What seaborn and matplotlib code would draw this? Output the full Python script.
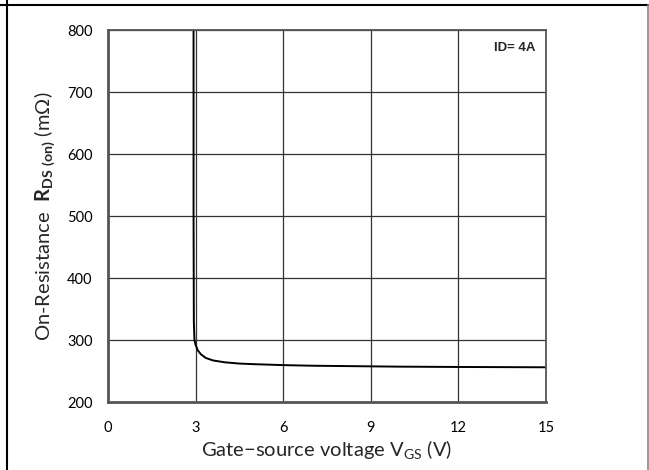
import matplotlib
matplotlib.use('Agg')
import matplotlib.pyplot as plt
import seaborn as sns
import pandas as pd
from matplotlib.lines import Line2D

# gate-source voltage (V) and on-resistance (mOhm)
vgs = [2.93, 2.93, 2.94, 2.96, 3.0, 3.08, 3.18, 3.35, 3.6, 4.0, 4.5, 5.0, 6.0, 7.0, 8.0, 9.0, 10.0, 12.0, 15.0]
rds = [800, 500, 330, 300, 292, 283, 277, 271, 267, 264, 262, 261, 259.5, 258.5, 258, 257.5, 257, 256.5, 256]
x_ticks = [0, 3, 6, 9, 12, 15]
y_ticks = [200, 300, 400, 500, 600, 700, 800]

df = pd.DataFrame({'vgs': vgs, 'rds': rds})

sns.set_theme(style='white')
plt.rcParams['font.family'] = ['Lato', 'DejaVu Sans']
plt.rcParams['mathtext.fontset'] = 'custom'
plt.rcParams['mathtext.rm'] = 'Lato'
plt.rcParams['mathtext.bf'] = 'Lato:bold'

fig = plt.figure(figsize=(6.49, 4.70), dpi=100)
ax = fig.add_axes([108 / 649, 68 / 470, 438 / 649, 372 / 470])

# estimator=None so the vertical drop at ~2.9 V is not averaged away
sns.lineplot(data=df, x='vgs', y='rds', sort=False, estimator=None,
             color='black', linewidth=1.4, ax=ax)

ax.set_xlim(0, 15)
ax.set_ylim(200, 800)
ax.set_xticks(x_ticks)
ax.set_yticks(y_ticks)
ax.tick_params(axis='both', length=0, labelsize=10.5, colors='black')
ax.tick_params(axis='y', pad=11)
ax.tick_params(axis='x', pad=14)
ax.grid(True, color='#333333', linewidth=0.9)
ax.set_axisbelow(True)
for side, sp in ax.spines.items():
    sp.set_color('#555555')
    sp.set_linewidth(1.3)
ax.spines['bottom'].set_linewidth(2.0)
ax.spines['left'].set_linewidth(2.0)

ax.set_xlabel(r'Gate$-$source voltage V$_{\mathregular{GS}}$ (V)', fontsize=14.5, labelpad=2)
ax.set_ylabel(r'On-Resistance  $\mathbf{R_{DS\ (on)}}$ (m$\Omega$)', fontsize=14.5, labelpad=7)

ax.annotate('ID= 4A', xy=(0.975, 0.952), xycoords='axes fraction', ha='right', va='center',
            fontsize=9.5, fontweight='bold', family='Liberation Sans')

# page frame lines
fig.add_artist(Line2D([7 / 649, 7 / 649], [0, 1], color='black', linewidth=1.5))
fig.add_artist(Line2D([0, 648 / 649], [1 - 4.5 / 470, 1 - 4.5 / 470], color='black', linewidth=1.5))
fig.add_artist(Line2D([648 / 649, 648 / 649], [0, 1 - 4.5 / 470], color='#888888', linewidth=1.2))

fig.savefig('out.png', dpi=100)
